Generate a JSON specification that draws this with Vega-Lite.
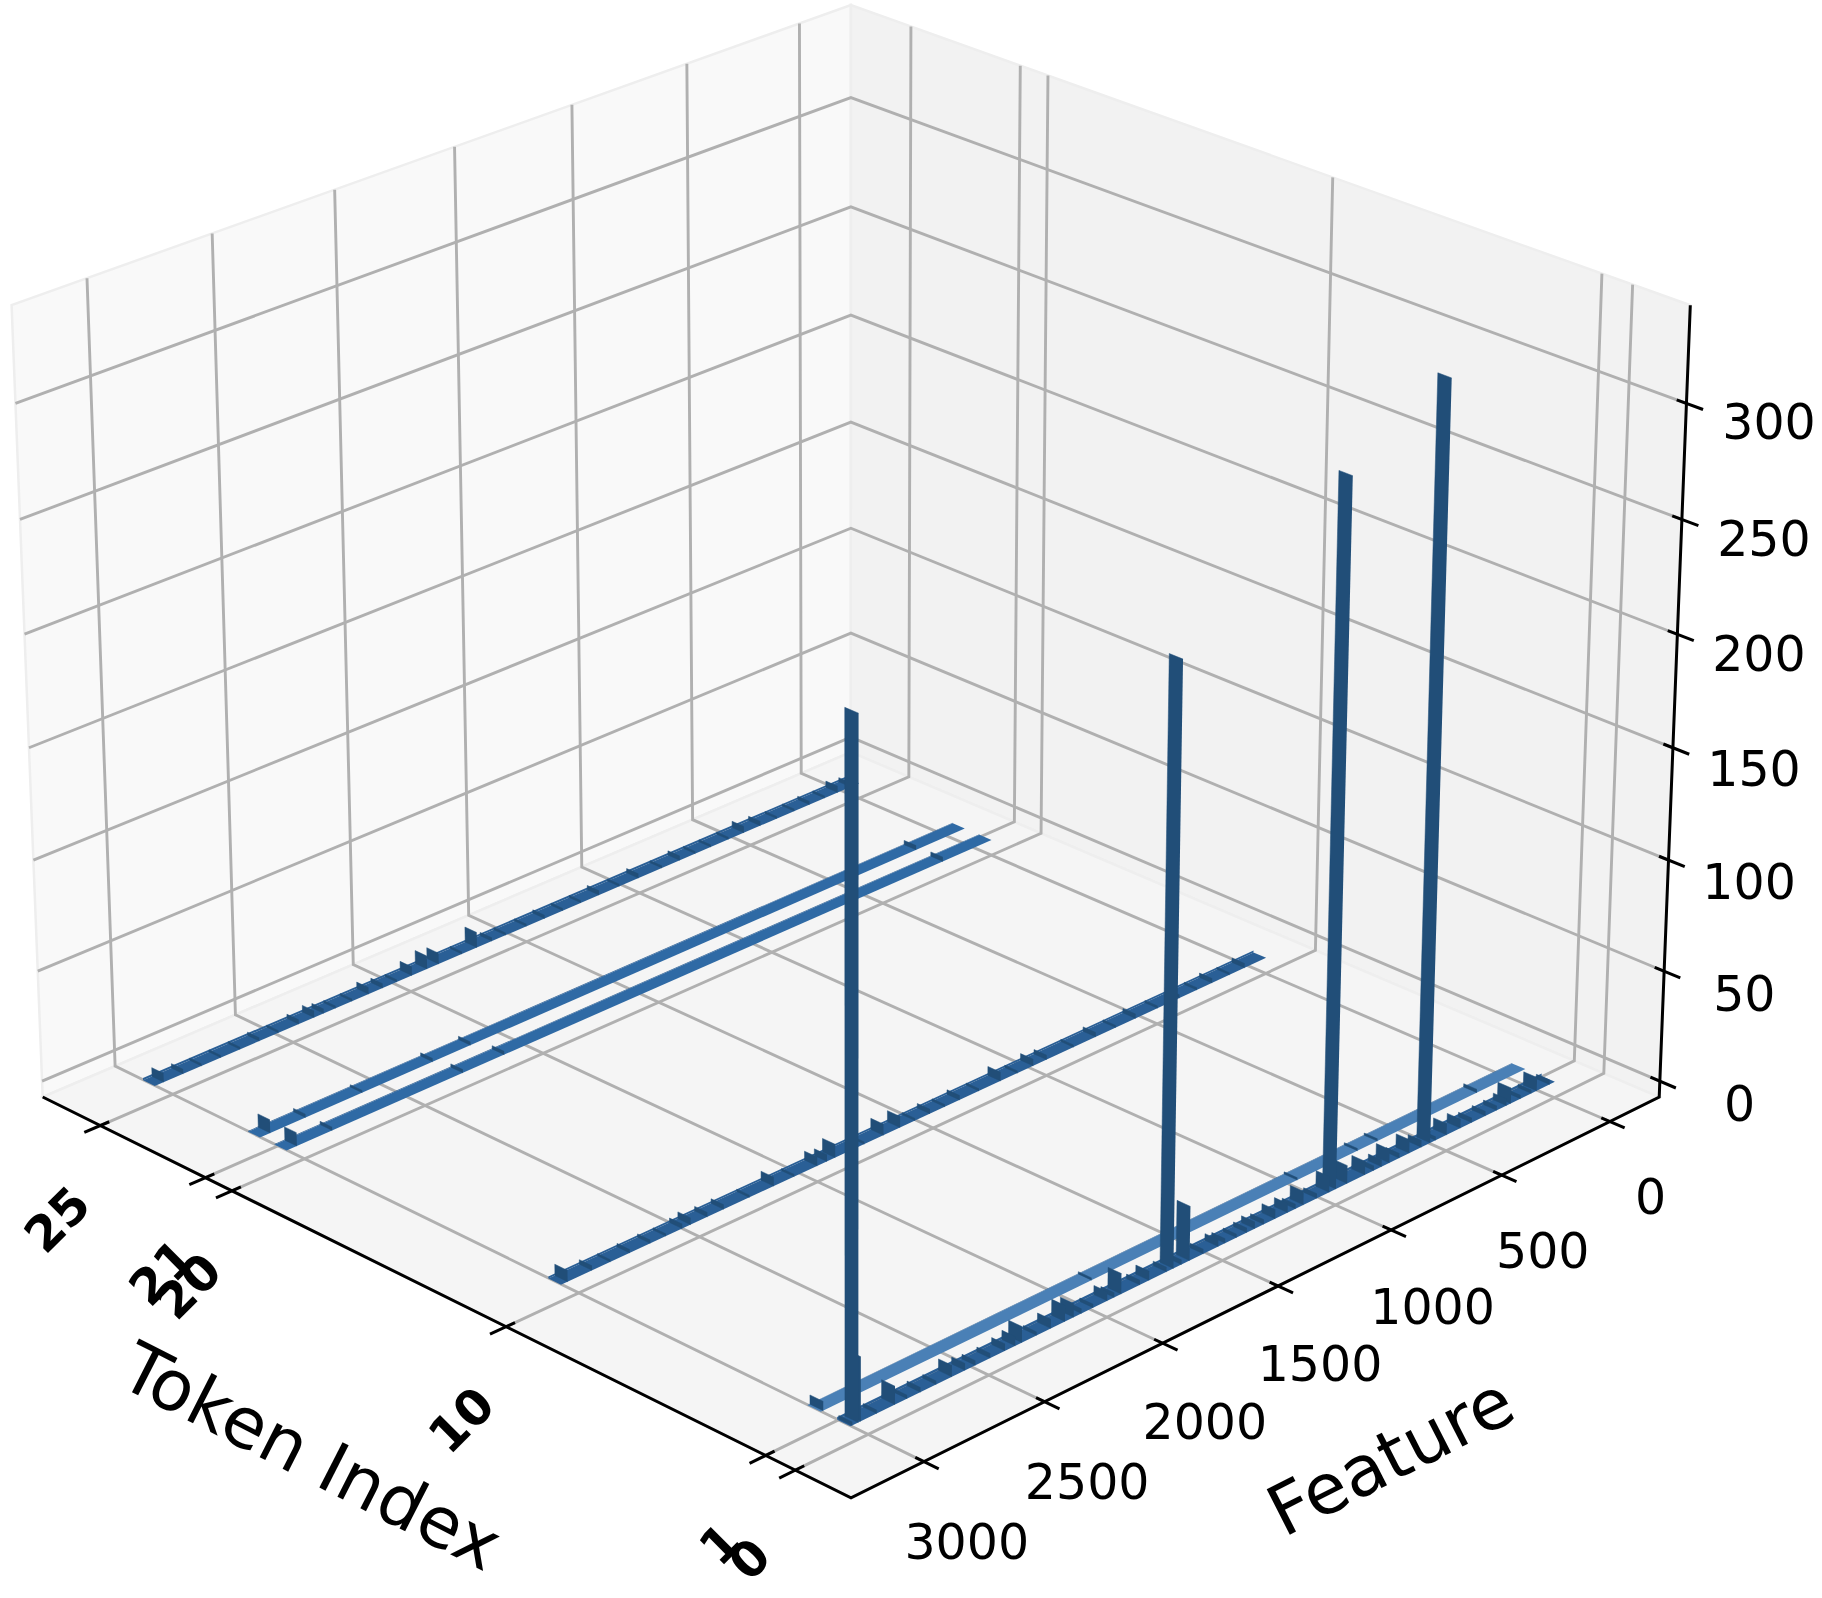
{"$schema":"https://vega.github.io/schema/vega-lite/v6.json","width":1822,"height":1598,"padding":0,"autosize":{"type":"none"},"background":"white","config":{"view":{"stroke":null}},"resolve":{"scale":{"fill":"independent"}},
"datasets":{
"panes":[
{"pane":"a-left","n":0,"feature":3296,"token":27.23,"value":-7.26},{"pane":"a-left","n":1,"feature":-232,"token":27.23,"value":-7.26},{"pane":"a-left","n":2,"feature":-232,"token":27.23,"value":341.9},{"pane":"a-left","n":3,"feature":3296,"token":27.23,"value":341.9},{"pane":"a-left","n":4,"feature":3296,"token":27.23,"value":-7.26},
{"pane":"b-right","n":0,"feature":-232,"token":27.23,"value":-7.26},{"pane":"b-right","n":1,"feature":-232,"token":-1.864,"value":-7.26},{"pane":"b-right","n":2,"feature":-232,"token":-1.864,"value":341.9},{"pane":"b-right","n":3,"feature":-232,"token":27.23,"value":341.9},{"pane":"b-right","n":4,"feature":-232,"token":27.23,"value":-7.26},
{"pane":"c-floor","n":0,"feature":3296,"token":-1.864,"value":-7.26},{"pane":"c-floor","n":1,"feature":-232,"token":-1.864,"value":-7.26},{"pane":"c-floor","n":2,"feature":-232,"token":27.23,"value":-7.26},{"pane":"c-floor","n":3,"feature":3296,"token":27.23,"value":-7.26},{"pane":"c-floor","n":4,"feature":3296,"token":-1.864,"value":-7.26}],
"grid":[
{"id":"f0","n":0,"feature":0,"token":-1.864,"value":-7.26},{"id":"f0","n":1,"feature":0,"token":27.23,"value":-7.26},{"id":"f0","n":2,"feature":0,"token":27.23,"value":341.9},
{"id":"f500","n":0,"feature":500,"token":-1.864,"value":-7.26},{"id":"f500","n":1,"feature":500,"token":27.23,"value":-7.26},{"id":"f500","n":2,"feature":500,"token":27.23,"value":341.9},
{"id":"f1000","n":0,"feature":1000,"token":-1.864,"value":-7.26},{"id":"f1000","n":1,"feature":1000,"token":27.23,"value":-7.26},{"id":"f1000","n":2,"feature":1000,"token":27.23,"value":341.9},
{"id":"f1500","n":0,"feature":1500,"token":-1.864,"value":-7.26},{"id":"f1500","n":1,"feature":1500,"token":27.23,"value":-7.26},{"id":"f1500","n":2,"feature":1500,"token":27.23,"value":341.9},
{"id":"f2000","n":0,"feature":2000,"token":-1.864,"value":-7.26},{"id":"f2000","n":1,"feature":2000,"token":27.23,"value":-7.26},{"id":"f2000","n":2,"feature":2000,"token":27.23,"value":341.9},
{"id":"f2500","n":0,"feature":2500,"token":-1.864,"value":-7.26},{"id":"f2500","n":1,"feature":2500,"token":27.23,"value":-7.26},{"id":"f2500","n":2,"feature":2500,"token":27.23,"value":341.9},
{"id":"f3000","n":0,"feature":3000,"token":-1.864,"value":-7.26},{"id":"f3000","n":1,"feature":3000,"token":27.23,"value":-7.26},{"id":"f3000","n":2,"feature":3000,"token":27.23,"value":341.9},
{"id":"t0","n":0,"feature":3296,"token":0,"value":-7.26},{"id":"t0","n":1,"feature":-232,"token":0,"value":-7.26},{"id":"t0","n":2,"feature":-232,"token":0,"value":341.9},
{"id":"t1","n":0,"feature":3296,"token":1,"value":-7.26},{"id":"t1","n":1,"feature":-232,"token":1,"value":-7.26},{"id":"t1","n":2,"feature":-232,"token":1,"value":341.9},
{"id":"t10","n":0,"feature":3296,"token":10,"value":-7.26},{"id":"t10","n":1,"feature":-232,"token":10,"value":-7.26},{"id":"t10","n":2,"feature":-232,"token":10,"value":341.9},
{"id":"t20","n":0,"feature":3296,"token":20,"value":-7.26},{"id":"t20","n":1,"feature":-232,"token":20,"value":-7.26},{"id":"t20","n":2,"feature":-232,"token":20,"value":341.9},
{"id":"t21","n":0,"feature":3296,"token":21,"value":-7.26},{"id":"t21","n":1,"feature":-232,"token":21,"value":-7.26},{"id":"t21","n":2,"feature":-232,"token":21,"value":341.9},
{"id":"t25","n":0,"feature":3296,"token":25,"value":-7.26},{"id":"t25","n":1,"feature":-232,"token":25,"value":-7.26},{"id":"t25","n":2,"feature":-232,"token":25,"value":341.9},
{"id":"z0","n":0,"feature":3296,"token":27.23,"value":0},{"id":"z0","n":1,"feature":-232,"token":27.23,"value":0},{"id":"z0","n":2,"feature":-232,"token":-1.864,"value":0},
{"id":"z50","n":0,"feature":3296,"token":27.23,"value":50},{"id":"z50","n":1,"feature":-232,"token":27.23,"value":50},{"id":"z50","n":2,"feature":-232,"token":-1.864,"value":50},
{"id":"z100","n":0,"feature":3296,"token":27.23,"value":100},{"id":"z100","n":1,"feature":-232,"token":27.23,"value":100},{"id":"z100","n":2,"feature":-232,"token":-1.864,"value":100},
{"id":"z150","n":0,"feature":3296,"token":27.23,"value":150},{"id":"z150","n":1,"feature":-232,"token":27.23,"value":150},{"id":"z150","n":2,"feature":-232,"token":-1.864,"value":150},
{"id":"z200","n":0,"feature":3296,"token":27.23,"value":200},{"id":"z200","n":1,"feature":-232,"token":27.23,"value":200},{"id":"z200","n":2,"feature":-232,"token":-1.864,"value":200},
{"id":"z250","n":0,"feature":3296,"token":27.23,"value":250},{"id":"z250","n":1,"feature":-232,"token":27.23,"value":250},{"id":"z250","n":2,"feature":-232,"token":-1.864,"value":250},
{"id":"z300","n":0,"feature":3296,"token":27.23,"value":300},{"id":"z300","n":1,"feature":-232,"token":27.23,"value":300},{"id":"z300","n":2,"feature":-232,"token":-1.864,"value":300}],
"axes":[
{"id":"ax","n":0,"feature":3296,"token":27.23,"value":-7.26},{"id":"ax","n":1,"feature":3296,"token":-1.864,"value":-7.26},{"id":"ax","n":2,"feature":-232,"token":-1.864,"value":-7.26},{"id":"ax","n":3,"feature":-232,"token":-1.864,"value":341.9},
{"id":"kf0","n":0,"feature":0,"token":-2.36,"value":-7.26},{"id":"kf0","n":1,"feature":0,"token":-1.58,"value":-7.26},
{"id":"kf500","n":0,"feature":500,"token":-2.36,"value":-7.26},{"id":"kf500","n":1,"feature":500,"token":-1.58,"value":-7.26},
{"id":"kf1000","n":0,"feature":1000,"token":-2.36,"value":-7.26},{"id":"kf1000","n":1,"feature":1000,"token":-1.58,"value":-7.26},
{"id":"kf1500","n":0,"feature":1500,"token":-2.36,"value":-7.26},{"id":"kf1500","n":1,"feature":1500,"token":-1.58,"value":-7.26},
{"id":"kf2000","n":0,"feature":2000,"token":-2.36,"value":-7.26},{"id":"kf2000","n":1,"feature":2000,"token":-1.58,"value":-7.26},
{"id":"kf2500","n":0,"feature":2500,"token":-2.36,"value":-7.26},{"id":"kf2500","n":1,"feature":2500,"token":-1.58,"value":-7.26},
{"id":"kf3000","n":0,"feature":3000,"token":-2.36,"value":-7.26},{"id":"kf3000","n":1,"feature":3000,"token":-1.58,"value":-7.26},
{"id":"kt0","n":0,"feature":3361,"token":0,"value":-7.26},{"id":"kt0","n":1,"feature":3260,"token":0,"value":-7.26},
{"id":"kt1","n":0,"feature":3361,"token":1,"value":-7.26},{"id":"kt1","n":1,"feature":3260,"token":1,"value":-7.26},
{"id":"kt10","n":0,"feature":3361,"token":10,"value":-7.26},{"id":"kt10","n":1,"feature":3260,"token":10,"value":-7.26},
{"id":"kt20","n":0,"feature":3361,"token":20,"value":-7.26},{"id":"kt20","n":1,"feature":3260,"token":20,"value":-7.26},
{"id":"kt21","n":0,"feature":3361,"token":21,"value":-7.26},{"id":"kt21","n":1,"feature":3260,"token":21,"value":-7.26},
{"id":"kt25","n":0,"feature":3361,"token":25,"value":-7.26},{"id":"kt25","n":1,"feature":3260,"token":25,"value":-7.26},
{"id":"kz0","n":0,"feature":-232,"token":-2.4,"value":0},{"id":"kz0","n":1,"feature":-232,"token":-1.55,"value":0},
{"id":"kz50","n":0,"feature":-232,"token":-2.4,"value":50},{"id":"kz50","n":1,"feature":-232,"token":-1.55,"value":50},
{"id":"kz100","n":0,"feature":-232,"token":-2.4,"value":100},{"id":"kz100","n":1,"feature":-232,"token":-1.55,"value":100},
{"id":"kz150","n":0,"feature":-232,"token":-2.4,"value":150},{"id":"kz150","n":1,"feature":-232,"token":-1.55,"value":150},
{"id":"kz200","n":0,"feature":-232,"token":-2.4,"value":200},{"id":"kz200","n":1,"feature":-232,"token":-1.55,"value":200},
{"id":"kz250","n":0,"feature":-232,"token":-2.4,"value":250},{"id":"kz250","n":1,"feature":-232,"token":-1.55,"value":250},
{"id":"kz300","n":0,"feature":-232,"token":-2.4,"value":300},{"id":"kz300","n":1,"feature":-232,"token":-1.55,"value":300}],
"strips":[{"token":25,"shade":"mid","fringe":1.0},{"token":21,"shade":"soft","fringe":0.3},{"token":20,"shade":"soft","fringe":0.3},{"token":10,"shade":"mid","fringe":0.9},{"token":1,"shade":"light","fringe":0.2},{"token":0,"shade":"mid","fringe":1.2}],
"bars":[
{"token":25,"feature":40,"value":2},{"token":25,"feature":100,"value":3},{"token":25,"feature":160,"value":1},{"token":25,"feature":230,"value":1.5},{"token":25,"feature":300,"value":1},{"token":25,"feature":380,"value":1},{"token":25,"feature":455,"value":2},{"token":25,"feature":530,"value":3},{"token":25,"feature":600,"value":1},{"token":25,"feature":680,"value":1},{"token":25,"feature":750,"value":1},{"token":25,"feature":820,"value":2},{"token":25,"feature":900,"value":1},{"token":25,"feature":1005,"value":2},{"token":25,"feature":1090,"value":1},{"token":25,"feature":1180,"value":2},{"token":25,"feature":1260,"value":1},{"token":25,"feature":1340,"value":1},{"token":25,"feature":1420,"value":1.5},{"token":25,"feature":1500,"value":1},{"token":25,"feature":1590,"value":1},{"token":25,"feature":1650,"value":1.5},{"token":25,"feature":1715,"value":7},{"token":25,"feature":1780,"value":1},{"token":25,"feature":1880,"value":5},{"token":25,"feature":1930,"value":6},{"token":25,"feature":1995,"value":4},{"token":25,"feature":2060,"value":1},{"token":25,"feature":2120,"value":2},{"token":25,"feature":2180,"value":3},{"token":25,"feature":2250,"value":1},{"token":25,"feature":2320,"value":1},{"token":25,"feature":2370,"value":2},{"token":25,"feature":2410,"value":3},{"token":25,"feature":2475,"value":2},{"token":25,"feature":2560,"value":1},{"token":25,"feature":2640,"value":1.5},{"token":25,"feature":2720,"value":1},{"token":25,"feature":2800,"value":1},{"token":25,"feature":2880,"value":1},{"token":25,"feature":2955,"value":2},{"token":25,"feature":3035,"value":4},
{"token":21,"feature":225,"value":2},{"token":21,"feature":2195,"value":1.5},{"token":21,"feature":2355,"value":1.5},{"token":21,"feature":2650,"value":1},{"token":21,"feature":2885,"value":1.5},{"token":21,"feature":3030,"value":6},
{"token":20,"feature":225,"value":2},{"token":20,"feature":2165,"value":1.5},{"token":20,"feature":2340,"value":1.5},{"token":20,"feature":2885,"value":1.5},{"token":20,"feature":3030,"value":6},
{"token":10,"feature":100,"value":2},{"token":10,"feature":170,"value":1},{"token":10,"feature":250,"value":2},{"token":10,"feature":320,"value":1},{"token":10,"feature":400,"value":1.5},{"token":10,"feature":500,"value":1},{"token":10,"feature":600,"value":2},{"token":10,"feature":690,"value":1},{"token":10,"feature":780,"value":2},{"token":10,"feature":880,"value":1},{"token":10,"feature":1000,"value":2},{"token":10,"feature":1060,"value":3},{"token":10,"feature":1130,"value":1},{"token":10,"feature":1205,"value":4},{"token":10,"feature":1300,"value":1},{"token":10,"feature":1385,"value":2},{"token":10,"feature":1450,"value":1},{"token":10,"feature":1515,"value":2},{"token":10,"feature":1580,"value":1},{"token":10,"feature":1645,"value":5},{"token":10,"feature":1717,"value":5},{"token":10,"feature":1800,"value":1},{"token":10,"feature":1925,"value":6},{"token":10,"feature":1960,"value":3},{"token":10,"feature":2002,"value":4},{"token":10,"feature":2100,"value":1},{"token":10,"feature":2187,"value":4},{"token":10,"feature":2290,"value":1},{"token":10,"feature":2398,"value":2},{"token":10,"feature":2467,"value":2},{"token":10,"feature":2537,"value":3},{"token":10,"feature":2572,"value":2},{"token":10,"feature":2640,"value":1},{"token":10,"feature":2705,"value":1.5},{"token":10,"feature":2790,"value":1.5},{"token":10,"feature":2870,"value":1},{"token":10,"feature":2945,"value":2},{"token":10,"feature":3045,"value":5},
{"token":1,"feature":225,"value":1.5},{"token":1,"feature":680,"value":1},{"token":1,"feature":770,"value":1},{"token":1,"feature":1040,"value":1},{"token":1,"feature":1940,"value":1},{"token":1,"feature":3062,"value":4},
{"token":0,"feature":25,"value":2},{"token":0,"feature":85,"value":6},{"token":0,"feature":110,"value":1.5},{"token":0,"feature":160,"value":1.5},{"token":0,"feature":205,"value":7},{"token":0,"feature":225,"value":3},{"token":0,"feature":270,"value":2},{"token":0,"feature":322,"value":2},{"token":0,"feature":385,"value":2},{"token":0,"feature":437,"value":4},{"token":0,"feature":500,"value":5},{"token":0,"feature":550,"value":1.5},{"token":0,"feature":575,"value":334},{"token":0,"feature":615,"value":3},{"token":0,"feature":670,"value":6},{"token":0,"feature":715,"value":2},{"token":0,"feature":760,"value":6},{"token":0,"feature":795,"value":3},{"token":0,"feature":830,"value":2},{"token":0,"feature":870,"value":6},{"token":0,"feature":950,"value":8},{"token":0,"feature":1000,"value":310},{"token":0,"feature":1030,"value":7},{"token":0,"feature":1085,"value":2},{"token":0,"feature":1145,"value":6},{"token":0,"feature":1180,"value":2},{"token":0,"feature":1215,"value":4},{"token":0,"feature":1270,"value":4},{"token":0,"feature":1320,"value":2},{"token":0,"feature":1360,"value":3},{"token":0,"feature":1395,"value":2},{"token":0,"feature":1440,"value":1.5},{"token":0,"feature":1490,"value":2},{"token":0,"feature":1520,"value":3},{"token":0,"feature":1585,"value":2},{"token":0,"feature":1645,"value":24},{"token":0,"feature":1680,"value":2},{"token":0,"feature":1715,"value":263},{"token":0,"feature":1745,"value":2},{"token":0,"feature":1820,"value":4},{"token":0,"feature":1860,"value":2},{"token":0,"feature":1940,"value":9},{"token":0,"feature":1970,"value":2},{"token":0,"feature":2000,"value":4},{"token":0,"feature":2060,"value":1.5},{"token":0,"feature":2110,"value":2},{"token":0,"feature":2143,"value":6},{"token":0,"feature":2180,"value":7},{"token":0,"feature":2240,"value":4},{"token":0,"feature":2300,"value":1.5},{"token":0,"feature":2362,"value":7},{"token":0,"feature":2390,"value":4},{"token":0,"feature":2433,"value":3},{"token":0,"feature":2495,"value":2},{"token":0,"feature":2557,"value":2},{"token":0,"feature":2600,"value":3},{"token":0,"feature":2655,"value":5},{"token":0,"feature":2720,"value":1.5},{"token":0,"feature":2785,"value":2},{"token":0,"feature":2840,"value":1.5},{"token":0,"feature":2890,"value":8},{"token":0,"feature":2965,"value":1.5},{"token":0,"feature":3030,"value":28},{"token":0,"feature":3040,"value":298},{"token":0,"feature":3065,"value":1.5}],
"tickLabels":[
{"feature":0,"token":-3.3,"value":-34,"label":"0"},{"feature":500,"token":-3.3,"value":-34,"label":"500"},{"feature":1000,"token":-3.3,"value":-34,"label":"1000"},{"feature":1500,"token":-3.3,"value":-34,"label":"1500"},{"feature":2000,"token":-3.3,"value":-34,"label":"2000"},{"feature":2500,"token":-3.3,"value":-34,"label":"2500"},{"feature":3000,"token":-3.3,"value":-34,"label":"3000"},
{"feature":-232,"token":-4.5,"value":4,"label":"0"},{"feature":-232,"token":-4.5,"value":54,"label":"50"},{"feature":-232,"token":-4.5,"value":104,"label":"100"},{"feature":-232,"token":-4.5,"value":154,"label":"150"},{"feature":-232,"token":-4.5,"value":204,"label":"200"},{"feature":-232,"token":-4.5,"value":254,"label":"250"},{"feature":-232,"token":-4.5,"value":304,"label":"300"}],
"tokenLabels":[{"feature":3476,"token":0,"value":-37,"label":"0"},{"feature":3476,"token":1,"value":-37,"label":"1"},{"feature":3476,"token":10,"value":-40,"label":"10"},{"feature":3476,"token":20,"value":-42,"label":"20"},{"feature":3476,"token":21,"value":-42,"label":"21"},{"feature":3476,"token":25,"value":-42,"label":"25"}]
},
"layer":[
{"data":{"name":"panes"},"transform":[
{"calculate":"(datum.token+1.864)/29.09","as":"s"},{"calculate":"(3296-datum.feature)/3528","as":"t"},{"calculate":"0.0208+datum.value*0.002864","as":"z"},{"calculate":"datum.s+datum.t-1","as":"w"},{"calculate":"10+datum.w*0.7629-(datum.z-0.5)*0.3774","as":"d"},{"calculate":"851+8234.6*(datum.t-datum.s)/datum.d","as":"u"},{"calculate":"708.6-9782*((datum.z-0.5)*0.8092+datum.w*0.3558)/datum.d","as":"v"}],
"mark":{"type":"line","strokeWidth":2.5,"stroke":"#eeeeee","clip":false},
"encoding":{"x":{"field":"u","type":"quantitative","scale":{"domain":[0,1822],"nice":false,"zero":false},"axis":null},"y":{"field":"v","type":"quantitative","scale":{"domain":[1598,0],"nice":false,"zero":false},"axis":null},"detail":{"field":"pane"},"order":{"field":"n"},"fill":{"field":"pane","type":"nominal","scale":{"domain":["a-left","b-right","c-floor"],"range":["#f9f9f9","#f2f2f2","#f5f5f5"]},"legend":null}}},
{"data":{"name":"grid"},"transform":[
{"calculate":"(datum.token+1.864)/29.09","as":"s"},{"calculate":"(3296-datum.feature)/3528","as":"t"},{"calculate":"0.0208+datum.value*0.002864","as":"z"},{"calculate":"datum.s+datum.t-1","as":"w"},{"calculate":"10+datum.w*0.7629-(datum.z-0.5)*0.3774","as":"d"},{"calculate":"851+8234.6*(datum.t-datum.s)/datum.d","as":"u"},{"calculate":"708.6-9782*((datum.z-0.5)*0.8092+datum.w*0.3558)/datum.d","as":"v"}],
"mark":{"type":"line","stroke":"#b0b0b0","strokeWidth":2.9,"strokeJoin":"miter","clip":false},
"encoding":{"x":{"field":"u","type":"quantitative"},"y":{"field":"v","type":"quantitative"},"detail":{"field":"id"},"order":{"field":"n"}}},
{"data":{"name":"strips"},"transform":[
{"calculate":"[0,1,2,3]","as":"n"},{"flatten":["n"]},
{"calculate":"datum.n==1||datum.n==2?3072:0","as":"feature"},{"calculate":"datum.token+(datum.n>=2?0.45:0)","as":"tok"},
{"calculate":"(datum.tok+1.864)/29.09","as":"s"},{"calculate":"(3296-datum.feature)/3528","as":"t"},{"calculate":"0.0208","as":"z"},{"calculate":"datum.s+datum.t-1","as":"w"},{"calculate":"10+datum.w*0.7629-(datum.z-0.5)*0.3774","as":"d"},{"calculate":"851+8234.6*(datum.t-datum.s)/datum.d","as":"u"},{"calculate":"708.6-9782*((datum.z-0.5)*0.8092+datum.w*0.3558)/datum.d","as":"v"}],
"mark":{"type":"line","strokeWidth":0,"clip":false},
"encoding":{"x":{"field":"u","type":"quantitative"},"y":{"field":"v","type":"quantitative"},"detail":{"field":"token"},"order":{"field":"n"},"fill":{"field":"shade","type":"nominal","scale":{"domain":["mid","soft","light"],"range":["#2a5f96","#2f6aa5","#4a80b6"]},"legend":null}}},
{"data":{"name":"strips"},"transform":[
{"calculate":"[0,1,2,3]","as":"n"},{"flatten":["n"]},
{"calculate":"datum.n==1||datum.n==2?3072:0","as":"feature"},{"calculate":"datum.token+0.45","as":"tok"},{"calculate":"datum.n>=2?datum.fringe:0","as":"val"},
{"calculate":"(datum.tok+1.864)/29.09","as":"s"},{"calculate":"(3296-datum.feature)/3528","as":"t"},{"calculate":"0.0208+datum.val*0.002864","as":"z"},{"calculate":"datum.s+datum.t-1","as":"w"},{"calculate":"10+datum.w*0.7629-(datum.z-0.5)*0.3774","as":"d"},{"calculate":"851+8234.6*(datum.t-datum.s)/datum.d","as":"u"},{"calculate":"708.6-9782*((datum.z-0.5)*0.8092+datum.w*0.3558)/datum.d","as":"v"}],
"mark":{"type":"line","fill":"#2a5f96","strokeWidth":0,"clip":false},
"encoding":{"x":{"field":"u","type":"quantitative"},"y":{"field":"v","type":"quantitative"},"detail":{"field":"token"},"order":{"field":"n"}}},
{"data":{"name":"bars"},"transform":[
{"calculate":"[0,1,2,3]","as":"n"},{"flatten":["n"]},
{"calculate":"datum.token+'_'+datum.feature","as":"id"},{"calculate":"datum.token+(datum.n==1||datum.n==2?0.45:0)","as":"tok"},{"calculate":"datum.n>=2?datum.value:0","as":"val"},
{"calculate":"(datum.tok+1.864)/29.09","as":"s"},{"calculate":"(3296-datum.feature)/3528","as":"t"},{"calculate":"0.0208+datum.val*0.002864","as":"z"},{"calculate":"datum.s+datum.t-1","as":"w"},{"calculate":"10+datum.w*0.7629-(datum.z-0.5)*0.3774","as":"d"},{"calculate":"851+8234.6*(datum.t-datum.s)/datum.d","as":"u"},{"calculate":"708.6-9782*((datum.z-0.5)*0.8092+datum.w*0.3558)/datum.d","as":"v"}],
"mark":{"type":"line","fill":"#214e78","stroke":"#214e78","strokeWidth":0.5,"clip":false},
"encoding":{"x":{"field":"u","type":"quantitative"},"y":{"field":"v","type":"quantitative"},"detail":{"field":"id"},"order":{"field":"n"}}},
{"data":{"name":"axes"},"transform":[
{"calculate":"(datum.token+1.864)/29.09","as":"s"},{"calculate":"(3296-datum.feature)/3528","as":"t"},{"calculate":"0.0208+datum.value*0.002864","as":"z"},{"calculate":"datum.s+datum.t-1","as":"w"},{"calculate":"10+datum.w*0.7629-(datum.z-0.5)*0.3774","as":"d"},{"calculate":"851+8234.6*(datum.t-datum.s)/datum.d","as":"u"},{"calculate":"708.6-9782*((datum.z-0.5)*0.8092+datum.w*0.3558)/datum.d","as":"v"}],
"mark":{"type":"line","stroke":"#000000","strokeWidth":3,"clip":false},
"encoding":{"x":{"field":"u","type":"quantitative"},"y":{"field":"v","type":"quantitative"},"detail":{"field":"id"},"order":{"field":"n"}}},
{"data":{"name":"tickLabels"},"transform":[
{"calculate":"(datum.token+1.864)/29.09","as":"s"},{"calculate":"(3296-datum.feature)/3528","as":"t"},{"calculate":"0.0208+datum.value*0.002864","as":"z"},{"calculate":"datum.s+datum.t-1","as":"w"},{"calculate":"10+datum.w*0.7629-(datum.z-0.5)*0.3774","as":"d"},{"calculate":"851+8234.6*(datum.t-datum.s)/datum.d","as":"u"},{"calculate":"708.6-9782*((datum.z-0.5)*0.8092+datum.w*0.3558)/datum.d","as":"v"}],
"mark":{"type":"text","font":"DejaVu Sans","fontSize":49,"color":"#000000","align":"center","baseline":"middle","clip":false},
"encoding":{"x":{"field":"u","type":"quantitative"},"y":{"field":"v","type":"quantitative"},"text":{"field":"label"}}},
{"data":{"name":"tokenLabels"},"transform":[
{"calculate":"(datum.token+1.864)/29.09","as":"s"},{"calculate":"(3296-datum.feature)/3528","as":"t"},{"calculate":"0.0208+datum.value*0.002864","as":"z"},{"calculate":"datum.s+datum.t-1","as":"w"},{"calculate":"10+datum.w*0.7629-(datum.z-0.5)*0.3774","as":"d"},{"calculate":"851+8234.6*(datum.t-datum.s)/datum.d","as":"u"},{"calculate":"708.6-9782*((datum.z-0.5)*0.8092+datum.w*0.3558)/datum.d","as":"v"}],
"mark":{"type":"text","font":"DejaVu Sans","fontWeight":"bold","fontSize":49,"angle":315,"color":"#000000","align":"center","baseline":"middle","clip":false},
"encoding":{"x":{"field":"u","type":"quantitative"},"y":{"field":"v","type":"quantitative"},"text":{"field":"label"}}},
{"data":{"values":[{"feature":4285,"token":8.07,"value":-2,"label":"Token Index"}]},"transform":[
{"calculate":"(datum.token+1.864)/29.09","as":"s"},{"calculate":"(3296-datum.feature)/3528","as":"t"},{"calculate":"0.0208+datum.value*0.002864","as":"z"},{"calculate":"datum.s+datum.t-1","as":"w"},{"calculate":"10+datum.w*0.7629-(datum.z-0.5)*0.3774","as":"d"},{"calculate":"851+8234.6*(datum.t-datum.s)/datum.d","as":"u"},{"calculate":"708.6-9782*((datum.z-0.5)*0.8092+datum.w*0.3558)/datum.d","as":"v"}],
"mark":{"type":"text","font":"DejaVu Sans","fontSize":70,"angle":27,"color":"#000000","align":"center","baseline":"middle","clip":false},
"encoding":{"x":{"field":"u","type":"quantitative"},"y":{"field":"v","type":"quantitative"},"text":{"field":"label"}}},
{"data":{"values":[{"feature":2110,"token":-10.16,"value":0,"label":"Feature"}]},"transform":[
{"calculate":"(datum.token+1.864)/29.09","as":"s"},{"calculate":"(3296-datum.feature)/3528","as":"t"},{"calculate":"0.0208+datum.value*0.002864","as":"z"},{"calculate":"datum.s+datum.t-1","as":"w"},{"calculate":"10+datum.w*0.7629-(datum.z-0.5)*0.3774","as":"d"},{"calculate":"851+8234.6*(datum.t-datum.s)/datum.d","as":"u"},{"calculate":"708.6-9782*((datum.z-0.5)*0.8092+datum.w*0.3558)/datum.d","as":"v"}],
"mark":{"type":"text","font":"DejaVu Sans","fontSize":70,"angle":333,"color":"#000000","align":"center","baseline":"middle","clip":false},
"encoding":{"x":{"field":"u","type":"quantitative"},"y":{"field":"v","type":"quantitative"},"text":{"field":"label"}}}
]}
